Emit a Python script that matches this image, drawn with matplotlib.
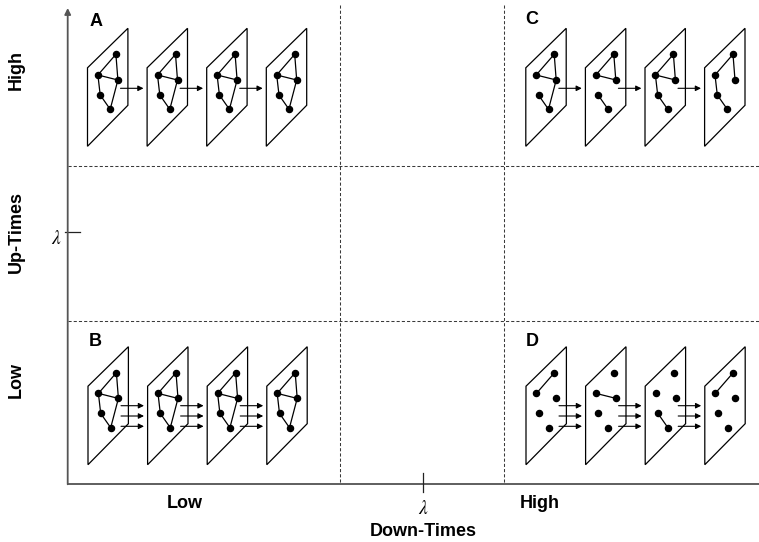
import matplotlib.pyplot as plt
from matplotlib.patches import Polygon

plt.rcParams['font.family'] = ['Liberation Sans', 'DejaVu Sans']
plt.rcParams['mathtext.fontset'] = 'stix'

# graph snapshots: edges between the 5 nodes of each snapshot
full = [(0, 1), (0, 2), (1, 2), (1, 3), (3, 4), (4, 2)]
edges_A = [full, full, full, full]
edges_B = [full, full, full, full]
edges_C = [[(0, 1), (0, 2), (1, 2), (2, 4), (3, 4)],
           [(0, 1), (0, 2), (1, 2), (3, 4)],
           [(0, 1), (0, 2), (1, 2), (1, 3), (3, 4)],
           [(0, 1), (0, 2), (1, 3), (3, 4)]]
edges_D = [[(0, 1)], [(1, 2)], [(3, 4)], [(0, 1)]]
arrows_A, arrows_B, arrows_C, arrows_D = 1, 3, 1, 3

x_labels = ['Low', 'High']
y_labels = ['High', 'Low']

# layout (pixel units)
node_dx = [28.4, 10.4, 30.4, 12.7, 22.7]
node_dy = [26, 46.7, 51.7, 66.7, 81]
plane_dx = [0, 40.4, 40.4, 0]
plane_dy = [39.5, 0, 77, 118]

fig = plt.figure(figsize=(7.59, 5.42), dpi=100)
ax = fig.add_axes([0, 0, 1, 1])
ax.set_xlim(0, 759)
ax.set_ylim(542, 0)
ax.axis('off')

# grid of dashed lines
for y in [166, 321]:
    ax.plot([68, 759], [y, y], color='#3a3a3a', lw=0.75, dashes=(3, 2))
for x in [340, 504]:
    ax.plot([x, x], [5, 484], color='#3a3a3a', lw=0.75, dashes=(3, 2))

# axes
ax.plot([68, 759], [484.3, 484.3], color='#333333', lw=1.1)
ax.annotate('', xy=(67.7, 8), xytext=(67.7, 484.3),
            arrowprops=dict(arrowstyle='-|>', color='#555555', lw=1.3,
                            shrinkA=0, shrinkB=0, mutation_scale=9))
ax.plot([65, 80], [231.7, 231.7], color='#222222', lw=0.9)
ax.plot([423.3, 423.3], [472.7, 492.3], color='#222222', lw=0.9)
ax.text(56.7, 239, r'$\lambda$', fontsize=14, ha='center', va='center')
ax.text(423.3, 509, r'$\lambda$', fontsize=14, ha='center', va='center')

ax.text(185, 503, x_labels[0], fontsize=13, fontweight='bold', ha='center', va='center')
ax.text(540, 503, x_labels[1], fontsize=13, fontweight='bold', ha='center', va='center')
ax.text(423.3, 532, 'Down-Times', fontsize=13, fontweight='bold', ha='center', va='center')
ax.text(16, 70, y_labels[0], fontsize=13, fontweight='bold', rotation=90, ha='center', va='center')
ax.text(16, 232, 'Up-Times', fontsize=13, fontweight='bold', rotation=90, ha='center', va='center')
ax.text(16, 380, y_labels[1], fontsize=13, fontweight='bold', rotation=90, ha='center', va='center')


def draw_panel(letter, lx, ly, x_start, yt, edges, n_arrows):
    ax.text(lx, ly, letter, fontsize=13, fontweight='bold', ha='center', va='center')
    for i, snap in enumerate(edges):
        x0 = x_start + i * 59.6
        pts = [(x0 + dx, yt + dy) for dx, dy in zip(plane_dx, plane_dy)]
        ax.add_patch(Polygon(pts, closed=True, facecolor='white', edgecolor='black',
                             lw=0.9, zorder=2 + 3 * i))
        for a, b in snap:
            ax.plot([x0 + node_dx[a], x0 + node_dx[b]], [yt + node_dy[a], yt + node_dy[b]],
                    color='black', lw=0.9, zorder=3 + 3 * i)
        ax.plot([x0 + d for d in node_dx], [yt + d for d in node_dy], 'o', color='black',
                ms=4.4, zorder=3 + 3 * i)
        if i < len(edges) - 1:
            ys = [60] if n_arrows == 1 else [59, 69.3, 79.6]
            for yy in ys:
                ax.annotate('', xy=(x0 + 56, yt + yy), xytext=(x0 + 33, yt + yy),
                            arrowprops=dict(arrowstyle='-|>', color='black', lw=0.8,
                                            shrinkA=0, shrinkB=0, mutation_scale=8),
                            zorder=4 + 3 * i)


draw_panel('A', 96, 21, 87.5, 28.3, edges_A, arrows_A)
draw_panel('B', 95, 341, 88, 346.7, edges_B, arrows_B)
draw_panel('C', 532, 20, 525.8, 28.3, edges_C, arrows_C)
draw_panel('D', 532, 341, 526, 346.7, edges_D, arrows_D)

fig.savefig('out.png', dpi=100)
